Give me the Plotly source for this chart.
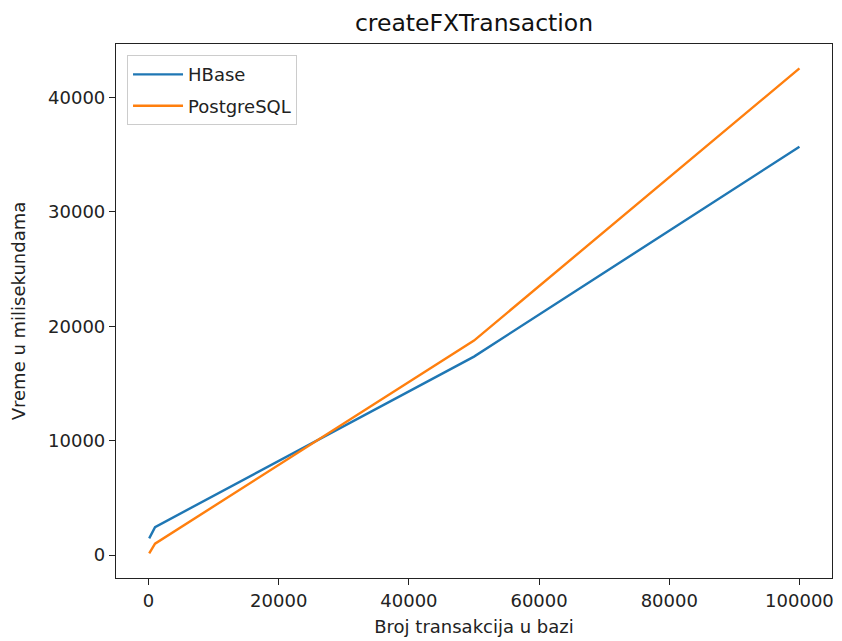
import plotly.graph_objects as go

x_values = [100, 1000, 50000, 100000]
hbase = [1460, 2450, 17350, 35690]
postgres = [150, 1000, 18750, 42540]
x_ticks = [0, 20000, 40000, 60000, 80000, 100000]
y_ticks = [0, 10000, 20000, 30000, 40000]

fig = go.Figure()
fig.add_trace(go.Scatter(x=x_values, y=hbase, mode="lines", name="HBase",
                         legendgroup="a",
                         line=dict(color="#1f77b4", width=2.4)))
fig.add_trace(go.Scatter(x=x_values, y=postgres, mode="lines", name="PostgreSQL",
                         legendgroup="b",
                         line=dict(color="#ff7f0e", width=2.4)))

font = "DejaVu Sans"
# the page adds an 8px body margin, so the figure is sized 834x633
fig.update_layout(
    width=834, height=633,
    margin=dict(l=108, r=10, t=36, b=63),
    paper_bgcolor="white", plot_bgcolor="white",
    font=dict(family=font, size=18, color="#222"),
    title=dict(text="createFXTransaction", x=466 / 834, xanchor="center",
               y=1 - 15 / 633, yanchor="middle",
               font=dict(size=23.5, color="#111")),
    showlegend=True,
    legend=dict(x=0.0154, y=0.979, xanchor="left", yanchor="top",
                bordercolor="#cccccc", borderwidth=1, bgcolor="white",
                font=dict(size=18, color="#222"), tracegroupgap=5,
                itemwidth=50),
    xaxis=dict(range=[-5000, 105000], tickvals=x_ticks,
               ticktext=[str(v) for v in x_ticks], automargin=False,
               showgrid=False, zeroline=False, showline=True, mirror=True,
               linecolor="#222", linewidth=1.2, ticks="outside", ticklen=6,
               tickcolor="#222",
               title=dict(text="Broj transakcija u bazi", standoff=10,
                          font=dict(size=18))),
    yaxis=dict(range=[-2000, 44670], tickvals=y_ticks,
               ticktext=[str(v) for v in y_ticks], automargin=False,
               showgrid=False, zeroline=False, showline=True, mirror=True,
               linecolor="#222", linewidth=1.2, ticks="outside", ticklen=6,
               tickcolor="#222",
               title=dict(text="Vreme u milisekundama", standoff=19,
                          font=dict(size=18))),
)

fig.write_html("out.html")
